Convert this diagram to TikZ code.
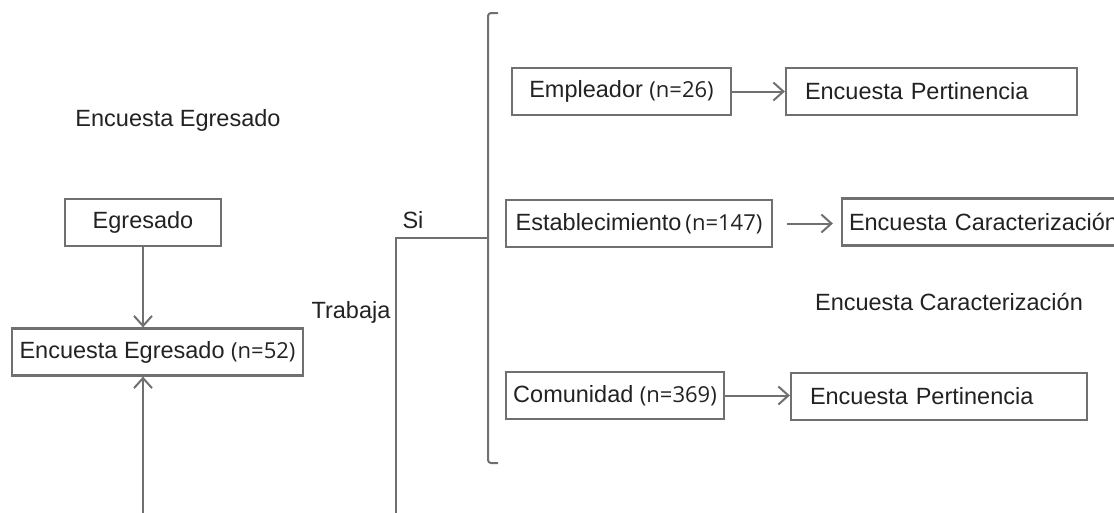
\documentclass[tikz,border=0pt]{standalone}
\usepackage{fontspec}
\setmainfont{Liberation Sans}
\newfontfamily\nfont{Open Sans}
\usetikzlibrary{arrows.meta}
\definecolor{lncol}{HTML}{707070}
\definecolor{txcol}{HTML}{222222}
\newcommand{\nn}[1]{{\nfont\fontsize{22}{26}\selectfont #1}}
\begin{document}
\begin{tikzpicture}[x=1pt,y=-1pt,
  box/.style={draw=lncol, line width=2.2pt, inner sep=0pt, minimum height=47pt, text=txcol, font=\fontsize{23.5}{28}\selectfont},
  lbl/.style={text=txcol, font=\fontsize{23.5}{28}\selectfont, inner sep=0pt},
  arr/.style={draw=lncol, line width=2pt, -{Straight Barb[length=10pt,width=18pt,line width=2pt]}},
  conn/.style={draw=lncol, line width=2pt}
]
\useasboundingbox (0,0) rectangle (1114,512);
\clip (0,0) rectangle (1114,512);

% left part
\node[lbl] (title) at (178,120) {Encuesta Egresado};
\node[box, minimum width=156pt] (egr) at (143,222.5) {Egresado};
\node[box, minimum width=291pt] (ee) at (157.5,352) {Encuesta Egresado \nn{(n=52)}};
\coordinate (b1) at (143,520);

% trabaja
\node[lbl] (trab) at (351,312) {Trabaja};
\node[lbl] (si) at (413,220) {Si};
\coordinate (b2) at (396,520);
\coordinate (sij) at (396,238);
\coordinate (brj) at (488,238);
\coordinate (btt) at (498,13);
\coordinate (bt) at (488,13);
\coordinate (bb) at (488,463);
\coordinate (bbt) at (498,463);

% right boxes
\node[box, minimum width=219pt] (emp) at (621.5,91.5) {Empleador \nn{(n=26)}};
\node[box, inner xsep=19pt, text width=253pt, align=left] (ep1) at (931.5,91.5) {Encuesta Pertinencia};
\node[box, minimum width=266pt] (est) at (639,223.5) {Establecimiento\,\nn{(n=147)}};
\node[box, inner xsep=7pt, text width=300pt, align=left] (ec2) at (999,222) {Encuesta Caracterización};
\node[lbl] (ecf) at (949,302) {Encuesta Caracterización};
\node[box, minimum width=218pt] (com) at (615,395.5) {Comunidad \nn{(n=369)}};
\node[box, inner xsep=19pt, text width=258pt, align=left] (ep3) at (939,396.5) {Encuesta Pertinencia};

% connectors
\draw[arr] (egr.south) -- (egr.south |- ee.north);
\draw[arr] (b1) -- (b1 |- ee.south);
\draw[conn] (b2) -- (sij) -- (brj);
\draw[conn, rounded corners=3pt] (btt) -- (bt) -- (bb) -- (bbt);
\draw[arr] (emp.east) -- (emp.east -| ep1.west);
\draw[arr, shorten <=14pt, shorten >=8pt] (est.east) -- (est.east -| ec2.west);
\draw[arr] (com.east) -- (com.east -| ep3.west);
\end{tikzpicture}
\end{document}
